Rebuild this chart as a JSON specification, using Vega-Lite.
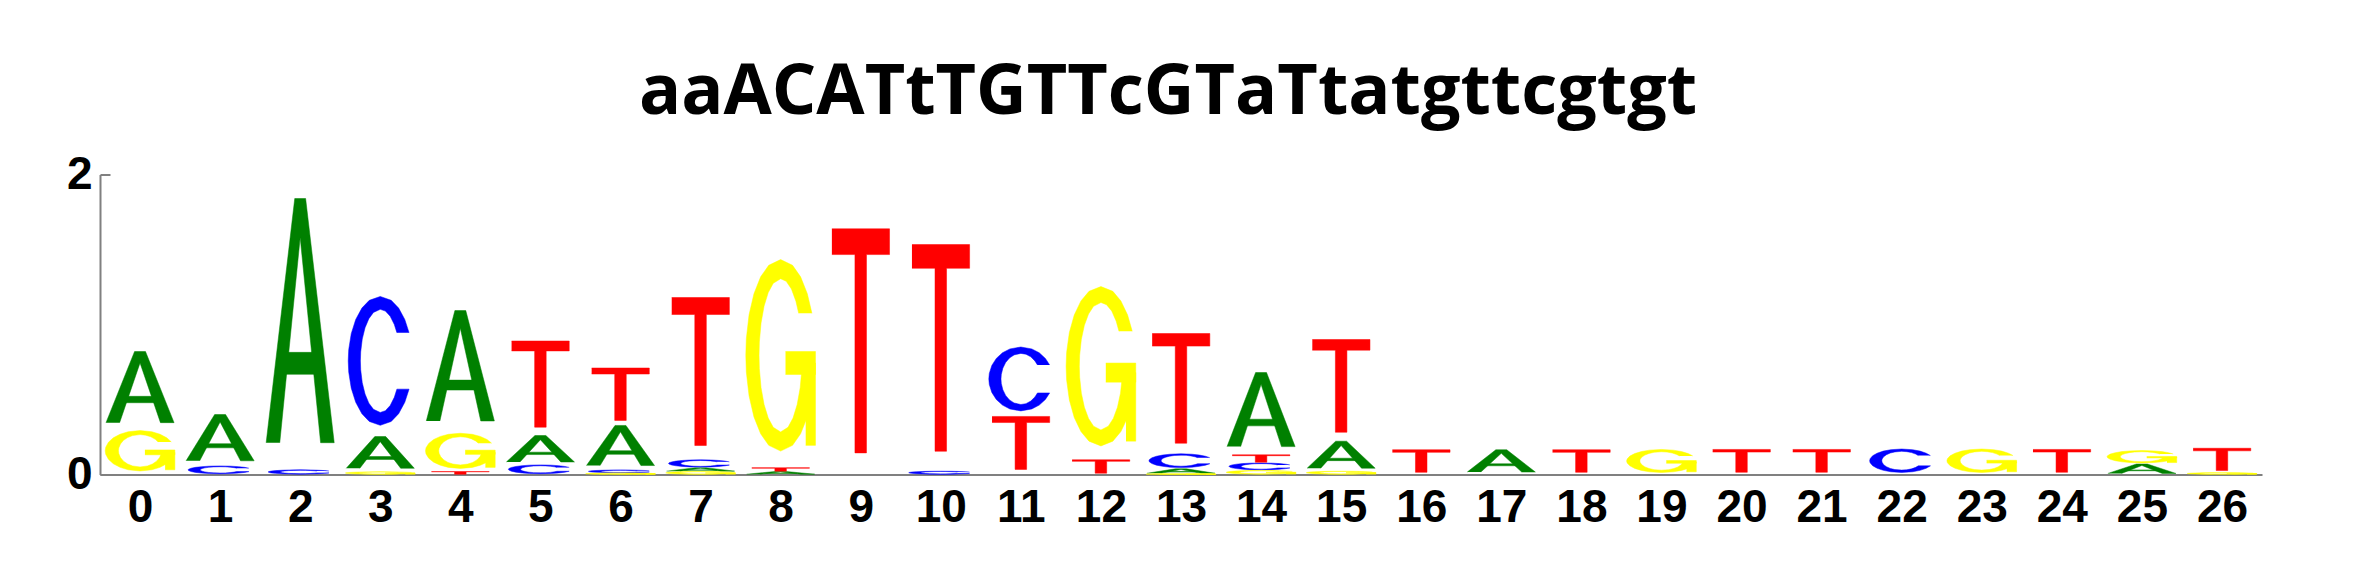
{
  "$schema": "https://vega.github.io/schema/vega-lite/v6.json",
  "autosize": {"type": "none"},
  "width": 2162,
  "height": 300,
  "padding": {"left": 100, "top": 174.5, "right": 98, "bottom": 100.5},
  "background": "white",
  "title": {
    "text": "aaACATtTGTTcGTaTtatgttcgtgt",
    "font": "Open Sans",
    "fontSize": 70,
    "fontWeight": "bold",
    "color": "black",
    "anchor": "middle",
    "offset": 23,
    "dx": -13
  },
  "config": {"view": {"stroke": null}},
  "data": {
    "values": [
      {"pos": 0, "letter": "G", "h": 0.293}, {"pos": 0, "letter": "A", "h": 0.527},
      {"pos": 1, "letter": "C", "h": 0.057}, {"pos": 1, "letter": "A", "h": 0.343},
      {"pos": 2, "letter": "C", "h": 0.031}, {"pos": 2, "letter": "A", "h": 1.809},
      {"pos": 3, "letter": "G", "h": 0.018}, {"pos": 3, "letter": "A", "h": 0.235}, {"pos": 3, "letter": "C", "h": 0.934},
      {"pos": 4, "letter": "T", "h": 0.02}, {"pos": 4, "letter": "G", "h": 0.255}, {"pos": 4, "letter": "A", "h": 0.818},
      {"pos": 5, "letter": "C", "h": 0.064}, {"pos": 5, "letter": "A", "h": 0.196}, {"pos": 5, "letter": "T", "h": 0.63},
      {"pos": 6, "letter": "G", "h": 0.01}, {"pos": 6, "letter": "C", "h": 0.02}, {"pos": 6, "letter": "A", "h": 0.297}, {"pos": 6, "letter": "T", "h": 0.383},
      {"pos": 7, "letter": "G", "h": 0.02}, {"pos": 7, "letter": "A", "h": 0.025}, {"pos": 7, "letter": "C", "h": 0.053}, {"pos": 7, "letter": "T", "h": 1.082},
      {"pos": 8, "letter": "A", "h": 0.02}, {"pos": 8, "letter": "T", "h": 0.025}, {"pos": 8, "letter": "G", "h": 1.388},
      {"pos": 9, "letter": "T", "h": 1.638},
      {"pos": 10, "letter": "C", "h": 0.022}, {"pos": 10, "letter": "T", "h": 1.511},
      {"pos": 11, "letter": "T", "h": 0.387}, {"pos": 11, "letter": "C", "h": 0.463},
      {"pos": 12, "letter": "T", "h": 0.098}, {"pos": 12, "letter": "G", "h": 1.155},
      {"pos": 13, "letter": "G", "h": 0.005}, {"pos": 13, "letter": "A", "h": 0.033}, {"pos": 13, "letter": "C", "h": 0.1}, {"pos": 13, "letter": "T", "h": 0.802},
      {"pos": 14, "letter": "G", "h": 0.027}, {"pos": 14, "letter": "C", "h": 0.05}, {"pos": 14, "letter": "T", "h": 0.054}, {"pos": 14, "letter": "A", "h": 0.549},
      {"pos": 15, "letter": "G", "h": 0.022}, {"pos": 15, "letter": "A", "h": 0.2}, {"pos": 15, "letter": "T", "h": 0.678},
      {"pos": 16, "letter": "T", "h": 0.165},
      {"pos": 17, "letter": "A", "h": 0.165},
      {"pos": 18, "letter": "T", "h": 0.165},
      {"pos": 19, "letter": "G", "h": 0.167},
      {"pos": 20, "letter": "T", "h": 0.167},
      {"pos": 21, "letter": "T", "h": 0.167},
      {"pos": 22, "letter": "C", "h": 0.17},
      {"pos": 23, "letter": "G", "h": 0.17},
      {"pos": 24, "letter": "T", "h": 0.167},
      {"pos": 25, "letter": "A", "h": 0.07}, {"pos": 25, "letter": "G", "h": 0.09},
      {"pos": 26, "letter": "G", "h": 0.012}, {"pos": 26, "letter": "T", "h": 0.163}
    ]
  },
  "transform": [
    {"stack": "h", "groupby": ["pos"], "sort": [{"field": "h", "order": "ascending"}], "as": ["y0", "y1"], "offset": "zero"}
  ],
  "encoding": {
    "x": {
      "field": "gx", "type": "quantitative",
      "scale": {"domain": [-0.5, 26.5], "nice": false, "zero": false},
      "axis": {
        "values": [0,1,2,3,4,5,6,7,8,9,10,11,12,13,14,15,16,17,18,19,20,21,22,23,24,25,26],
        "format": "d", "title": null, "grid": false, "ticks": false, "tickSize": 0,
        "domainColor": "#808080", "domainWidth": 2,
        "labelFont": "Liberation Sans", "labelFontSize": 46, "labelFontWeight": "bold", "labelColor": "black",
        "labelPadding": 11, "labelFlush": false, "labelOverlap": false, "labelBound": false
      }
    },
    "y": {
      "field": "gy", "type": "quantitative",
      "scale": {"domain": [0, 2], "nice": false, "zero": false},
      "axis": {
        "values": [0, 1, 2], "format": "d", "title": null, "grid": false,
        "ticks": true, "tickSize": -10, "tickColor": "#808080", "tickWidth": 2,
        "domainColor": "#808080", "domainWidth": 2,
        "labelFont": "Liberation Sans", "labelFontSize": 46, "labelFontWeight": "bold", "labelColor": "black",
        "labelPadding": 18, "labelFlush": false, "labelOverlap": false, "labelBound": false
      }
    },
    "detail": [{"field": "pos", "type": "nominal"}, {"field": "part", "type": "nominal"}],
    "order": {"field": "idx", "type": "quantitative"}
  },
  "layer": [
    {
      "transform": [
        {"filter": "datum.letter == 'A'"},
        {"calculate": "[[0,0,0,0,0,0,0],[0,1,0.42,1,0,0,0],[0,2,0.58,1,0,0,0],[0,3,1,0,0,0,0],[0,4,0.8,0,0,0,0],[0,5,0.5,0.84,0,0,0],[0,6,0.2,0,0,0,0],[1,0,0.26,0.28,0,0,0],[1,1,0.74,0.28,0,0,0],[1,2,0.71,0.37,0,0,0],[1,3,0.29,0.37,0,0,0]]", "as": "g"},
        {"flatten": ["g"]},
        {"calculate": "datum.g[0]", "as": "part"},
        {"calculate": "datum.g[1]", "as": "idx"},
        {"calculate": "datum.pos + 0.85*(datum.g[2] + datum.g[4]*cos(datum.g[6]*PI/180) - 0.5)", "as": "gx"},
        {"calculate": "datum.y0 + (datum.y1 - datum.y0)*(0.10 + 0.90*(datum.g[3] + datum.g[5]*sin(datum.g[6]*PI/180)))", "as": "gy"}
      ],
      "mark": {"type": "line", "fill": "#008000", "stroke": "#008000", "strokeWidth": 0.5, "interpolate": "linear"}
    },
    {
      "transform": [
        {"filter": "datum.letter == 'C'"},
        {"calculate": "[[0,0,0.5,0.5,0.5,0.5,26],[0,1,0.5,0.5,0.5,0.5,40],[0,2,0.5,0.5,0.5,0.5,55],[0,3,0.5,0.5,0.5,0.5,70],[0,4,0.5,0.5,0.5,0.5,90],[0,5,0.5,0.5,0.5,0.5,110],[0,6,0.5,0.5,0.5,0.5,125],[0,7,0.5,0.5,0.5,0.5,140],[0,8,0.5,0.5,0.5,0.5,155],[0,9,0.5,0.5,0.5,0.5,170],[0,10,0.5,0.5,0.5,0.5,180],[0,11,0.5,0.5,0.5,0.5,190],[0,12,0.5,0.5,0.5,0.5,205],[0,13,0.5,0.5,0.5,0.5,220],[0,14,0.5,0.5,0.5,0.5,235],[0,15,0.5,0.5,0.5,0.5,250],[0,16,0.5,0.5,0.5,0.5,270],[0,17,0.5,0.5,0.5,0.5,290],[0,18,0.5,0.5,0.5,0.5,305],[0,19,0.5,0.5,0.5,0.5,320],[0,20,0.5,0.5,0.5,0.5,334],[0,21,0.5,0.5,0.31,0.4,326.8],[0,22,0.5,0.5,0.31,0.4,315],[0,23,0.5,0.5,0.31,0.4,300],[0,24,0.5,0.5,0.31,0.4,285],[0,25,0.5,0.5,0.31,0.4,270],[0,26,0.5,0.5,0.31,0.4,250],[0,27,0.5,0.5,0.31,0.4,235],[0,28,0.5,0.5,0.31,0.4,220],[0,29,0.5,0.5,0.31,0.4,205],[0,30,0.5,0.5,0.31,0.4,190],[0,31,0.5,0.5,0.31,0.4,180],[0,32,0.5,0.5,0.31,0.4,170],[0,33,0.5,0.5,0.31,0.4,155],[0,34,0.5,0.5,0.31,0.4,140],[0,35,0.5,0.5,0.31,0.4,125],[0,36,0.5,0.5,0.31,0.4,110],[0,37,0.5,0.5,0.31,0.4,90],[0,38,0.5,0.5,0.31,0.4,75],[0,39,0.5,0.5,0.31,0.4,60],[0,40,0.5,0.5,0.31,0.4,45],[0,41,0.5,0.5,0.31,0.4,33.2]]", "as": "g"},
        {"flatten": ["g"]},
        {"calculate": "datum.g[0]", "as": "part"},
        {"calculate": "datum.g[1]", "as": "idx"},
        {"calculate": "datum.pos + 0.80*(datum.g[2] + datum.g[4]*cos(datum.g[6]*PI/180) - 0.5)", "as": "gx"},
        {"calculate": "datum.y0 + (datum.y1 - datum.y0)*(0.08 + 0.92*(datum.g[3] + datum.g[5]*sin(datum.g[6]*PI/180)))", "as": "gy"}
      ],
      "mark": {"type": "line", "fill": "#0000ff", "stroke": "#0000ff", "strokeWidth": 0.5, "interpolate": "linear"}
    },
    {
      "transform": [
        {"filter": "datum.letter == 'G'"},
        {"calculate": "[[0,0,0.5,0.5,0.5,0.5,26],[0,1,0.5,0.5,0.5,0.5,40],[0,2,0.5,0.5,0.5,0.5,55],[0,3,0.5,0.5,0.5,0.5,70],[0,4,0.5,0.5,0.5,0.5,90],[0,5,0.5,0.5,0.5,0.5,110],[0,6,0.5,0.5,0.5,0.5,125],[0,7,0.5,0.5,0.5,0.5,140],[0,8,0.5,0.5,0.5,0.5,155],[0,9,0.5,0.5,0.5,0.5,170],[0,10,0.5,0.5,0.5,0.5,180],[0,11,0.5,0.5,0.5,0.5,190],[0,12,0.5,0.5,0.5,0.5,205],[0,13,0.5,0.5,0.5,0.5,220],[0,14,0.5,0.5,0.5,0.5,235],[0,15,0.5,0.5,0.5,0.5,250],[0,16,0.5,0.5,0.5,0.5,270],[0,17,0.5,0.5,0.5,0.5,290],[0,18,0.5,0.5,0.5,0.5,305],[0,19,0.5,0.5,0.5,0.5,320],[0,20,0.5,0.5,0.5,0.5,335],[0,21,0.5,0.5,0.5,0.5,350],[0,22,0.5,0.5,0.31,0.4,350],[0,23,0.5,0.5,0.31,0.4,335],[0,24,0.5,0.5,0.31,0.4,320],[0,25,0.5,0.5,0.31,0.4,305],[0,26,0.5,0.5,0.31,0.4,290],[0,27,0.5,0.5,0.31,0.4,270],[0,28,0.5,0.5,0.31,0.4,250],[0,29,0.5,0.5,0.31,0.4,235],[0,30,0.5,0.5,0.31,0.4,220],[0,31,0.5,0.5,0.31,0.4,205],[0,32,0.5,0.5,0.31,0.4,190],[0,33,0.5,0.5,0.31,0.4,180],[0,34,0.5,0.5,0.31,0.4,170],[0,35,0.5,0.5,0.31,0.4,155],[0,36,0.5,0.5,0.31,0.4,140],[0,37,0.5,0.5,0.31,0.4,125],[0,38,0.5,0.5,0.31,0.4,110],[0,39,0.5,0.5,0.31,0.4,90],[0,40,0.5,0.5,0.31,0.4,75],[0,41,0.5,0.5,0.31,0.4,60],[0,42,0.5,0.5,0.31,0.4,45],[0,43,0.5,0.5,0.31,0.4,33.2],[1,0,0.57,0.4,0,0,0],[1,1,1,0.4,0,0,0],[1,2,1,0.52,0,0,0],[1,3,0.57,0.52,0,0,0],[2,0,0.86,0.03,0,0,0],[2,1,1,0.03,0,0,0],[2,2,1,0.46,0,0,0],[2,3,0.86,0.46,0,0,0]]", "as": "g"},
        {"flatten": ["g"]},
        {"calculate": "datum.g[0]", "as": "part"},
        {"calculate": "datum.g[1]", "as": "idx"},
        {"calculate": "datum.pos + 0.87*(datum.g[2] + datum.g[4]*cos(datum.g[6]*PI/180) - 0.5)", "as": "gx"},
        {"calculate": "datum.y0 + (datum.y1 - datum.y0)*(0.08 + 0.92*(datum.g[3] + datum.g[5]*sin(datum.g[6]*PI/180)))", "as": "gy"}
      ],
      "mark": {"type": "line", "fill": "#ffff00", "stroke": "#ffff00", "strokeWidth": 0.5, "interpolate": "linear"}
    },
    {
      "transform": [
        {"filter": "datum.letter == 'T'"},
        {"calculate": "[[0,0,0,1,0,0,0],[0,1,1,1,0,0,0],[0,2,1,0.885,0,0,0],[0,3,0.6,0.885,0,0,0],[0,4,0.6,0,0,0,0],[0,5,0.4,0,0,0,0],[0,6,0.4,0.885,0,0,0],[0,7,0,0.885,0,0,0]]", "as": "g"},
        {"flatten": ["g"]},
        {"calculate": "datum.g[0]", "as": "part"},
        {"calculate": "datum.g[1]", "as": "idx"},
        {"calculate": "datum.pos + 0.72*(datum.g[2] + datum.g[4]*cos(datum.g[6]*PI/180) - 0.5)", "as": "gx"},
        {"calculate": "datum.y0 + (datum.y1 - datum.y0)*(0.088 + 0.912*(datum.g[3] + datum.g[5]*sin(datum.g[6]*PI/180)))", "as": "gy"}
      ],
      "mark": {"type": "line", "fill": "#ff0000", "stroke": "#ff0000", "strokeWidth": 0.5, "interpolate": "linear"}
    }
  ]
}
